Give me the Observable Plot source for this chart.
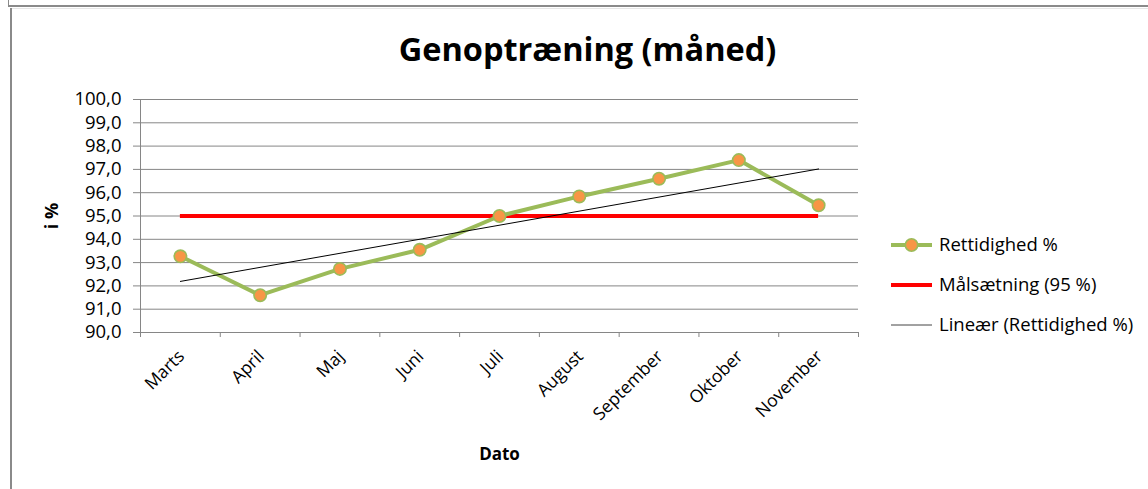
<!DOCTYPE html>
<html>
<head>
<meta charset="utf-8">
<script src="https://cdn.jsdelivr.net/npm/d3@7"></script>
<script src="https://cdn.jsdelivr.net/npm/@observablehq/plot@0.6"></script>
<style>
  body { margin: 0; background: #fff; font-family: "Open Sans", Lato, sans-serif; }
  #wrap { position: relative; width: 1148px; height: 489px; overflow: hidden; background:#fff; }
  #wrap svg.plot { position: absolute; left: 0; top: 0; }
  .frameTop { position:absolute; left:8px; top:5px; right:0; height:0; border-top:2px solid #8a8a8a; }
  .frameTopL { position:absolute; left:8px; top:0; width:0; height:6px; border-left:1px solid #8a8a8a; }
  .frameLeft { position:absolute; left:10px; top:8px; bottom:0; width:0; border-left:2px solid #8a8a8a; }
  .frameInTop { position:absolute; left:11px; top:8px; right:0; height:0; border-top:1px solid #e6e6e6; }
  #legend { position:absolute; left:885px; top:230px; }
</style>
</head>
<body>
<div id="wrap">
  <div class="frameTopL"></div>
  <div class="frameTop"></div>
  <div class="frameInTop"></div>
  <div class="frameLeft"></div>
</div>
<script>
// ---- data ----
const months = ["Marts", "April", "Maj", "Juni", "Juli", "August", "September", "Oktober", "November"];
const rettidighed = [93.27, 91.6, 92.73, 93.55, 95.0, 95.84, 96.6, 97.4, 95.46];
const maal = 95;
const yTicks = [90, 91, 92, 93, 94, 95, 96, 97, 98, 99, 100];
const title = "Genoptræning (måned)";
const yLabel = "i %";
const xLabel = "Dato";
const legendLabels = ["Rettidighed %", "Målsætning (95 %)", "Lineær (Rettidighed %)"];

// ---- derived ----
const data = months.map((m, i) => ({idx: i + 1, month: m, value: rettidighed[i]}));
const n = data.length;
const mx = d3.mean(data, d => d.idx), my = d3.mean(data, d => d.value);
const slope = d3.sum(data, d => (d.idx - mx) * (d.value - my)) / d3.sum(data, d => (d.idx - mx) ** 2);
const trend = [1, n].map(i => ({idx: i, value: my + slope * (i - mx)}));
const boundaries = d3.range(0, n + 1).map(i => i + 0.5);
const centers = data.map(d => d.idx);

const green = "#9BBB59", orange = "#F79646", red = "#FF0000", grid = "#868686";
const font = "'Open Sans', Lato, sans-serif";

const chart = Plot.plot({
  width: 1148,
  height: 489,
  marginLeft: 140,
  marginRight: 290,
  marginTop: 99,
  marginBottom: 157,
  style: {fontFamily: font, fontSize: "16px", color: "#000", background: "transparent"},
  x: {type: "linear", domain: [0.5, n + 0.5]},
  y: {domain: [90, 100]},
  marks: [
    Plot.gridY(yTicks, {stroke: grid, strokeOpacity: 1, strokeWidth: 1}),
    Plot.ruleX([0.5], {stroke: grid, strokeWidth: 1}),
    Plot.ruleY([90], {stroke: grid, strokeWidth: 1}),
    Plot.axisY({ticks: yTicks, tickFormat: d => d.toFixed(1).replace(".", ","), tickSize: 7, tickPadding: 12,
      stroke: grid, strokeOpacity: 1, label: null, fontSize: 18.5, fill: "#000"}),
    Plot.axisX({ticks: boundaries, tickFormat: () => "", tickSize: 5, stroke: grid, strokeOpacity: 1, label: null}),
    Plot.axisX({ticks: centers, tickFormat: i => months[i - 1], tickSize: 0, tickPadding: 21, tickRotate: -45,
      dx: 1, label: null, fontSize: 17.5, fill: "#000"}),
    Plot.ruleY([maal], {x1: 1, x2: n, stroke: red, strokeWidth: 4}),
    Plot.line(data, {x: "idx", y: "value", stroke: green, strokeWidth: 4}),
    Plot.dot(data, {x: "idx", y: "value", r: 6.2, fill: orange, stroke: green, strokeWidth: 1.6}),
    Plot.line(trend, {x: "idx", y: "value", stroke: "#000", strokeWidth: 1}),
    Plot.text([title], {frameAnchor: "top-left", dx: 447, dy: -39, text: d => d, textAnchor: "middle",
      lineAnchor: "bottom", fontSize: 32.5, fontWeight: "bold", fill: "#000"}),
    Plot.text([yLabel], {frameAnchor: "left", dx: -88, text: d => d, rotate: -90, textAnchor: "middle",
      fontSize: 18, fontWeight: "bold", fill: "#000"}),
    Plot.text([xLabel], {frameAnchor: "bottom", dy: 127, text: d => d, textAnchor: "middle",
      fontSize: 17, fontWeight: "bold", fill: "#000"})
  ]
});
chart.classList.add("plot");
document.getElementById("wrap").appendChild(chart);

// ---- legend (SVG overlay) ----
const lg = d3.select("#wrap").append("svg").attr("id", "legend")
  .attr("width", 263).attr("height", 110)
  .style("font-family", font).style("font-size", "18.5px");
const rows = [
  {label: legendLabels[0], stroke: green, w: 4, dot: true},
  {label: legendLabels[1], stroke: red, w: 4, dot: false},
  {label: legendLabels[2], stroke: "#444", w: 1, dot: false}
];
rows.forEach((r, i) => {
  const g = lg.append("g").attr("transform", `translate(0,${15 + i * 40})`);
  g.append("line").attr("x1", 6).attr("x2", 47).attr("y1", 0).attr("y2", 0)
    .attr("stroke", r.stroke).attr("stroke-width", r.w);
  if (r.dot) g.append("circle").attr("cx", 26.5).attr("cy", 0).attr("r", 6.2)
    .attr("fill", orange).attr("stroke", green).attr("stroke-width", 1.6);
  g.append("text").attr("x", 54).attr("y", 0).attr("dy", "0.35em").attr("fill", "#000").text(r.label);
});
</script>
</body>
</html>
